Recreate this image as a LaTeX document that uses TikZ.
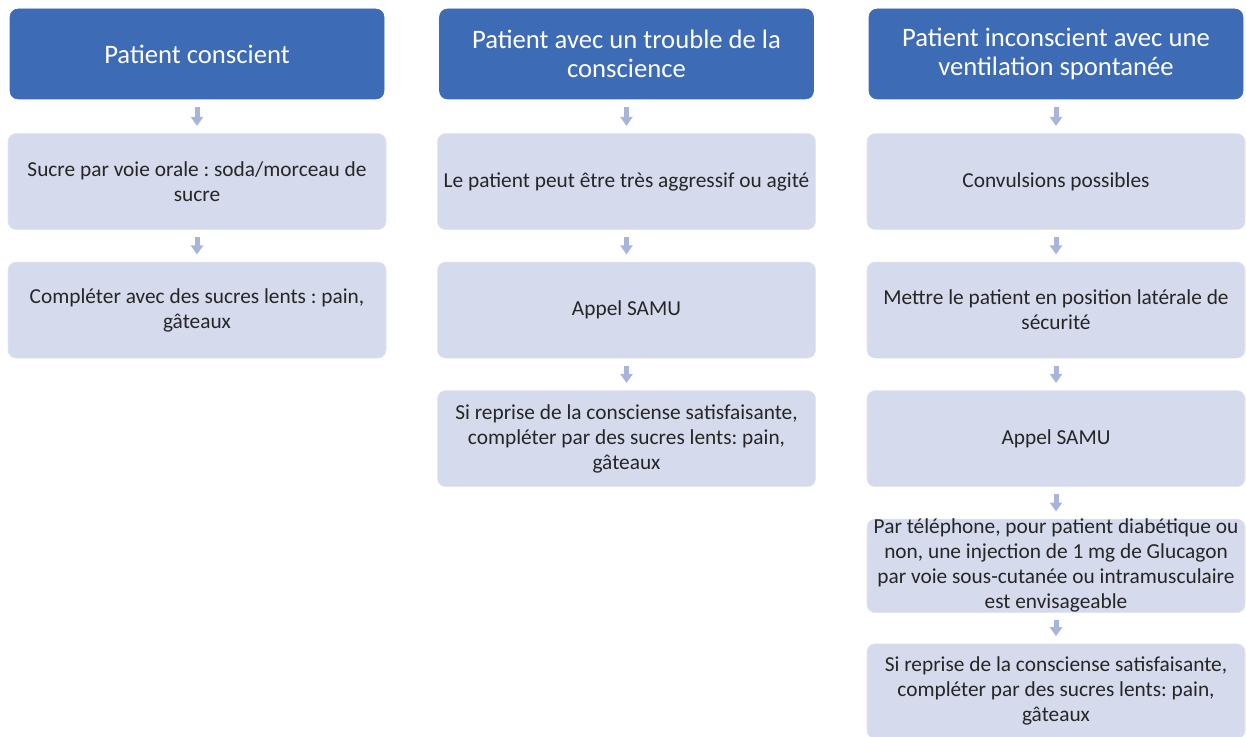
\documentclass[tikz,border=0pt]{standalone}
\usepackage{fontspec}
\setmainfont{Carlito}
\usepackage{xcolor}
\usepackage{tikz}
\usetikzlibrary{arrows.meta, positioning}
\frenchspacing
\definecolor{entete}{HTML}{3D6BB5}
\definecolor{boitefond}{HTML}{D5DAEC}
\definecolor{boitebord}{HTML}{E2E5F2}
\definecolor{flechecol}{HTML}{A8B5DA}
\definecolor{texte}{HTML}{262626}
\tikzstyle{entete} = [rectangle, rounded corners=6pt, fill=entete, draw=entete, text=white, minimum width=280.5pt, minimum height=67.5pt, text width=250pt, align=flush center, inner sep=0pt, font=\fontsize{20}{22}\selectfont]
\tikzstyle{boite} = [rectangle, rounded corners=6pt, fill=boitefond, draw=boitebord, text=texte, minimum width=283.5pt, minimum height=72pt, text width=276pt, align=flush center, inner sep=0pt, font=\fontsize{16}{18.75}\selectfont]
\tikzstyle{fleche} = [line width=3.75pt, draw=flechecol, -{Triangle[width=9pt,length=6.75pt,fill=flechecol]}, shorten <=5.5pt, shorten >=5.5pt]

\begin{document}
\begin{tikzpicture}[x=0.75pt, y=-0.75pt, node distance=24pt]
\useasboundingbox (0,0) rectangle (1246,737);

% en-tetes
\node[entete] (p1) at (197,54) {Patient conscient};
\node[entete] (p2) at (626.5,54) {Patient avec un trouble de la conscience};
\node[entete] (p3) at (1056,54) {Patient inconscient avec une ventilation spontanée};

% colonne 1
\node[boite, below=25.5pt of p1] (c1a) {Sucre par voie orale : soda/morceau de sucre};
\node[boite, below=of c1a] (c1b) {Compléter avec des sucres lents : pain, gâteaux};

% colonne 2
\node[boite, below=25.5pt of p2] (c2a) {Le patient peut être très aggressif ou agité};
\node[boite, below=of c2a] (c2b) {Appel SAMU};
\node[boite, below=of c2b] (c2c) {Si reprise de la consciense satisfaisante, compléter par des sucres lents: pain, gâteaux};

% colonne 3
\node[boite, below=25.5pt of p3] (c3a) {Convulsions possibles};
\node[boite, below=of c3a] (c3b) {Mettre le patient en position latérale de sécurité};
\node[boite, below=of c3b] (c3c) {Appel SAMU};
\node[boite, below=of c3c, minimum height=69pt] (c3d) {Par téléphone, pour patient diabétique ou non, une injection de 1 mg de Glucagon par voie sous-cutanée ou intramusculaire est envisageable};
\node[boite, below=23pt of c3d, minimum height=71pt] (c3e) {Si reprise de la consciense satisfaisante, compléter par des sucres lents: pain, gâteaux};

% fleches
\draw[fleche] (p1) -- (c1a);
\draw[fleche] (c1a) -- (c1b);
\draw[fleche] (p2) -- (c2a);
\draw[fleche] (c2a) -- (c2b);
\draw[fleche] (c2b) -- (c2c);
\draw[fleche] (p3) -- (c3a);
\draw[fleche] (c3a) -- (c3b);
\draw[fleche] (c3b) -- (c3c);
\draw[fleche] (c3c) -- (c3d);
\draw[fleche] (c3d) -- (c3e);
\end{tikzpicture}
\end{document}
